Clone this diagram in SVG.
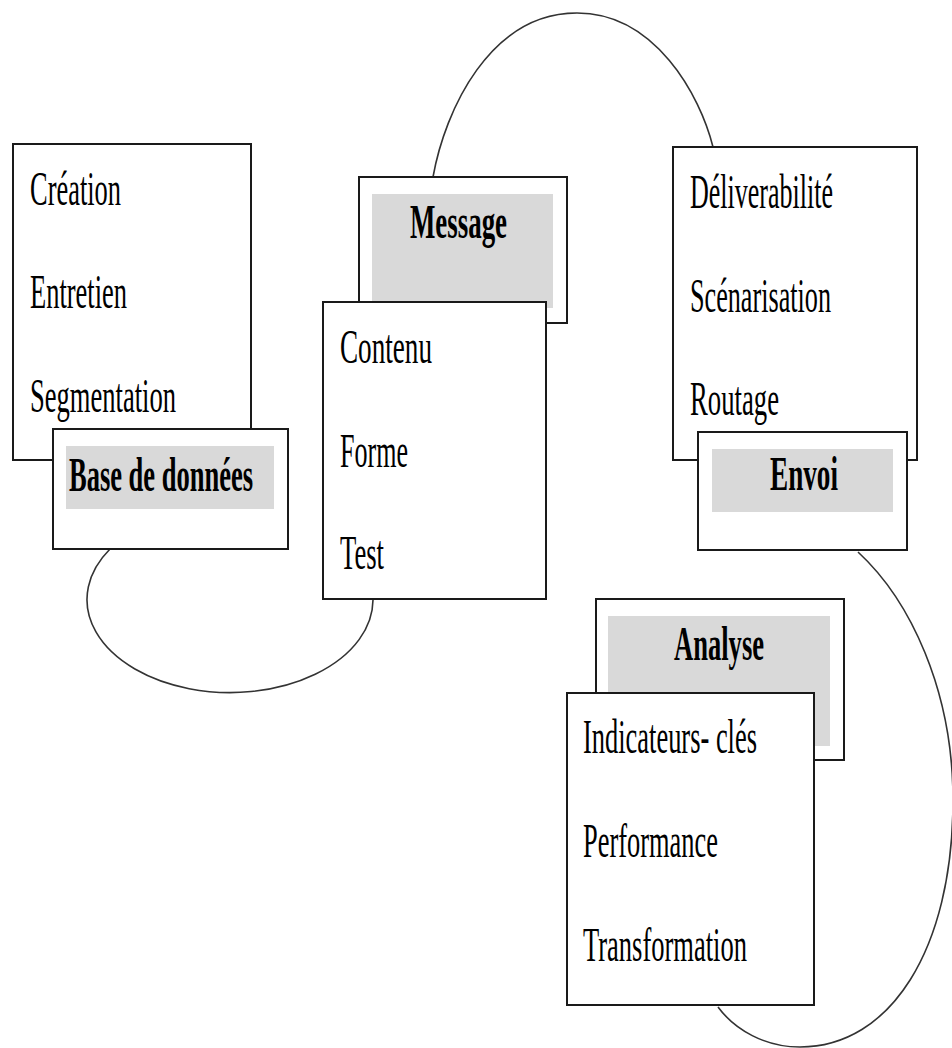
<svg xmlns="http://www.w3.org/2000/svg" width="952" height="1048" viewBox="0 0 952 1048">
<style>
.box{fill:#fff;stroke:#1a1a1a;stroke-width:2}
.band{fill:#d9d9d9}
.conn{fill:none;stroke:#333;stroke-width:1.6}
.t{font-family:"Liberation Serif","Times New Roman",serif;font-size:49px;fill:#000}
.b{font-family:"Liberation Serif","Times New Roman",serif;font-size:49px;font-weight:bold;fill:#000}
</style>
<rect width="952" height="1048" fill="#fff"/>
<g id="connectors">
<path class="conn" d="M433,177 C445,110 490,13 577,13 C655,13 700,95 713,147"/>
<path class="conn" d="M110,549 A143,93 0 1 0 373,600"/>
<path class="conn" d="M858,552 C910,600 953,690 953,800 C953,950 890,1047 800,1047 C765,1047 735,1030 718,1007"/>
</g>
<g id="base-de-donnees">
<rect class="box" x="13" y="144" width="238" height="316"/>
<text class="t" x="30" y="205" textLength="91" lengthAdjust="spacingAndGlyphs">Création</text>
<text class="t" x="30" y="308" textLength="97" lengthAdjust="spacingAndGlyphs">Entretien</text>
<text class="t" x="30" y="412" textLength="146" lengthAdjust="spacingAndGlyphs">Segmentation</text>
<rect class="box" x="53" y="429" width="235" height="120"/>
<rect class="band" x="66" y="446" width="208" height="63"/>
<text class="b" x="69" y="491" textLength="184" lengthAdjust="spacingAndGlyphs">Base de données</text>
</g>
<g id="message">
<rect class="box" x="359" y="177" width="208" height="146"/>
<rect class="band" x="372" y="194" width="181" height="114"/>
<text class="b" x="410" y="238" textLength="97" lengthAdjust="spacingAndGlyphs">Message</text>
<rect class="box" x="323" y="302" width="223" height="297"/>
<text class="t" x="340" y="363" textLength="92" lengthAdjust="spacingAndGlyphs">Contenu</text>
<text class="t" x="340" y="467" textLength="68" lengthAdjust="spacingAndGlyphs">Forme</text>
<text class="t" x="340" y="569" textLength="44" lengthAdjust="spacingAndGlyphs">Test</text>
</g>
<g id="envoi">
<rect class="box" x="673" y="147" width="244" height="313"/>
<text class="t" x="690" y="208" textLength="143" lengthAdjust="spacingAndGlyphs">Déliverabilité</text>
<text class="t" x="690" y="312" textLength="141" lengthAdjust="spacingAndGlyphs">Scénarisation</text>
<text class="t" x="690" y="415" textLength="89" lengthAdjust="spacingAndGlyphs">Routage</text>
<rect class="box" x="698" y="432" width="209" height="118"/>
<rect class="band" x="712" y="449" width="181" height="63"/>
<text class="b" x="770" y="490" textLength="68" lengthAdjust="spacingAndGlyphs">Envoi</text>
</g>
<g id="analyse">
<rect class="box" x="596" y="599" width="248" height="161"/>
<rect class="band" x="608" y="616" width="222" height="130"/>
<text class="b" x="674" y="660" textLength="90" lengthAdjust="spacingAndGlyphs">Analyse</text>
<rect class="box" x="567" y="693" width="247" height="312"/>
<text class="t" x="583" y="753" textLength="174" lengthAdjust="spacingAndGlyphs">Indicateurs- clés</text>
<text class="t" x="583" y="857" textLength="135" lengthAdjust="spacingAndGlyphs">Performance</text>
<text class="t" x="583" y="961" textLength="164" lengthAdjust="spacingAndGlyphs">Transformation</text>
</g>
</svg>
